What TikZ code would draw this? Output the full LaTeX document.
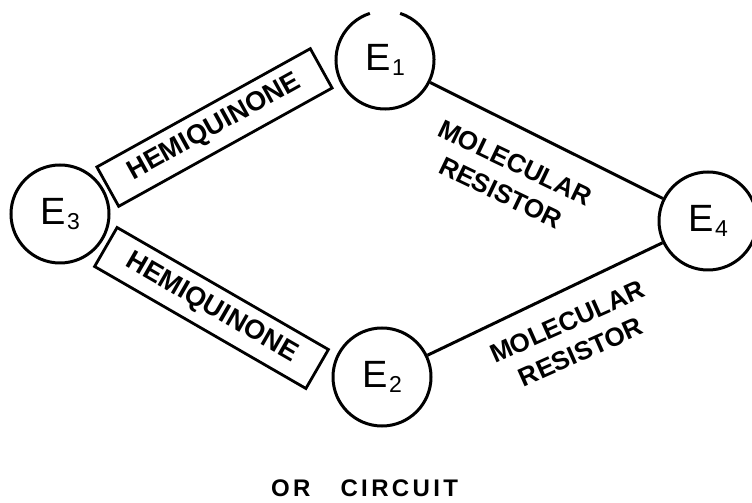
\documentclass[tikz,border=0pt]{standalone}
\usepackage{fontspec}
\setmainfont{Liberation Sans}
\newcommand{\Elab}[1]{E\kern1.5pt\raisebox{-5pt}{\fontsize{23}{23}\selectfont #1}}
\tikzset{
  enz/.style={circle, draw, line width=3pt, minimum size=98pt, inner sep=0pt,
    font=\fontsize{38}{38}\selectfont},
  hbox/.style={rectangle, draw, line width=2.8pt, minimum width=244pt,
    minimum height=45pt, inner sep=0pt, font=\fontsize{27}{27}\selectfont\bfseries},
  reslabel/.style={align=center, inner sep=0pt,
    font=\fontsize{26}{33}\selectfont\bfseries},
  wire/.style={line width=3pt},
  caption/.style={inner sep=0pt, font=\fontsize{24}{24}\selectfont\bfseries\addfontfeature{LetterSpace=14}}
}
\begin{document}
\begin{tikzpicture}[x=1pt,y=1pt]
  \useasboundingbox (0,0) rectangle (752,503);
  % enzymes
  \node[enz, draw=none] (E1) at (385,443) {\Elab{1}};
  \draw[line width=3pt] (E1.center) ++(108:49) arc[start angle=108, end angle=432, radius=49];
  \node[enz] (E2) at (382,126) {\Elab{2}};
  \node[enz] (E3) at (60,289) {\Elab{3}};
  \node[enz] (E4) at (708,282) {\Elab{4}};
  % hemiquinone boxes
  \node[hbox, rotate=29] (H1) at (214.5,375.5) {HEMIQUINONE};
  \node[hbox, rotate=-30] (H2) at (211.5,195) {HEMIQUINONE};
  % molecular resistors
  \draw[wire] (E1) -- (E4);
  \draw[wire] (E2) -- (E4);
  \node[reslabel, rotate=-25.6] (R1) at (508,325) {MOLECULAR\\RESISTOR};
  \node[reslabel, rotate=24] (R2) at (574,166) {MOLECULAR\\RESISTOR};
  % caption
  \node[caption, anchor=west] (cap) at (271,14.5) {OR\hspace{30pt}CIRCUIT};
\end{tikzpicture}
\end{document}
